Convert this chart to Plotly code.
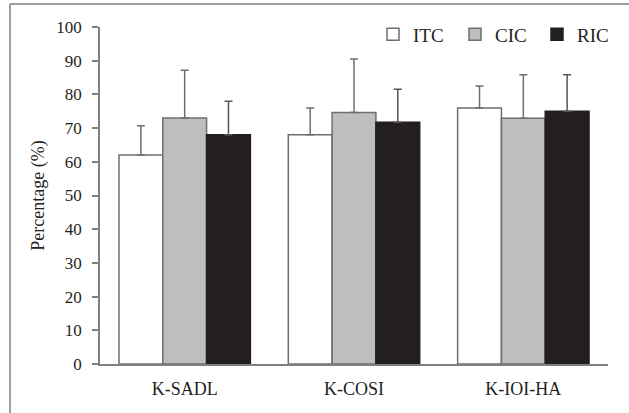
import plotly.graph_objects as go

categories = ["K-SADL", "K-COSI", "K-IOI-HA"]
itc = [62, 68, 76]
itc_sd = [8.7, 8.0, 6.5]
cic = [73, 74.6, 72.9]
cic_sd = [14.2, 15.9, 12.9]
ric = [68, 71.7, 75]
ric_sd = [10.0, 9.8, 10.8]
y_ticks = [0, 10, 20, 30, 40, 50, 60, 70, 80, 90, 100]

W, H = 629, 413
ML, MR, MT, MB = 100, 21, 27, 49
pw = W - ML - MR
ph = H - MT - MB

FONT = "Liberation Serif"
GREY = "#6d6e71"

def err(sd, color):
    return dict(type="data", array=sd, arrayminus=[0] * len(sd), symmetric=False,
                color=color, thickness=1.5, width=4)

fig = go.Figure()
fig.add_trace(go.Bar(name="ITC", x=categories, y=itc, error_y=err(itc_sd, GREY),
                     marker=dict(color="white", line=dict(color=GREY, width=1.5))))
fig.add_trace(go.Bar(name="CIC", x=categories, y=cic, error_y=err(cic_sd, GREY),
                     marker=dict(color="#bcbec0", line=dict(color=GREY, width=1.5))))
fig.add_trace(go.Bar(name="RIC", x=categories, y=ric, error_y=err(ric_sd, "#555555"),
                     marker=dict(color="#231f20", line=dict(color="#231f20", width=1.5))))

# outer frame (left and top edges)
px = lambda x: (x - ML) / pw
py = lambda y: (H - MB - y) / ph
fig.add_shape(type="line", xref="paper", yref="paper", x0=px(10), x1=px(10), y0=py(4), y1=py(420),
              line=dict(color="#808080", width=1.5))
fig.add_shape(type="line", xref="paper", yref="paper", x0=px(10), x1=px(640), y0=py(4), y1=py(4),
              line=dict(color="#808080", width=1.5))

fig.update_layout(
    width=W, height=H,
    margin=dict(l=ML, r=MR, t=MT, b=MB, autoexpand=False),
    paper_bgcolor="white", plot_bgcolor="white",
    barmode="group", bargap=0.224, bargroupgap=0,
    font=dict(family=FONT, size=17, color="#231f20"),
    showlegend=True,
    legend=dict(orientation="h", x=px(619), xanchor="right", y=py(34.5), yanchor="middle",
                font=dict(family=FONT, size=19, color="#231f20"),
                bgcolor="rgba(0,0,0,0)", itemwidth=30, traceorder="normal",
                entrywidth=37, entrywidthmode="pixels"),
    xaxis=dict(showline=True, linecolor="#808080", linewidth=1.5, ticks="",
               showgrid=False, range=[-0.5, 2.5], tickfont=dict(size=18),
               ticklabelstandoff=8),
    yaxis=dict(range=[0, 100], tickvals=y_ticks, showline=True, linecolor="#808080",
               linewidth=1.5, ticks="outside", ticklen=6, tickcolor="#808080", tickwidth=1.5,
               showgrid=False, zeroline=False, tickfont=dict(size=17), ticklabelstandoff=7,
               title=dict(text="Percentage (%)", font=dict(size=18), standoff=7)),
)

fig.write_html("out.html", config={"displayModeBar": False},
               post_script="document.body.style.margin='0';")
